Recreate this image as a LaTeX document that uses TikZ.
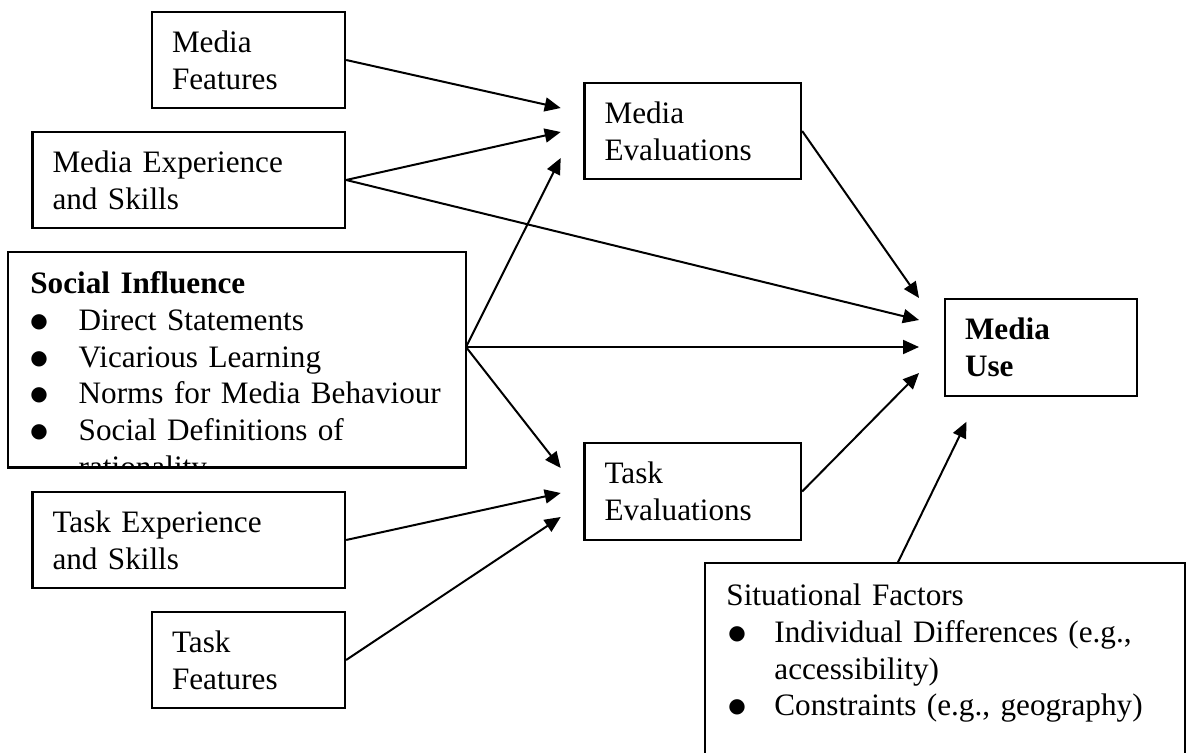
\documentclass[tikz,border=0pt]{standalone}
\usepackage{fontspec}
\setmainfont{Liberation Serif}
\newfontfamily\bulfont{DejaVu Sans}
\usetikzlibrary{arrows.meta}
\newcommand{\mybul}{\raisebox{1.5pt}{\bulfont\fontsize{10}{10}\selectfont ●}}
\begin{document}
\begin{tikzpicture}[x=0.5pt,y=-0.5pt,
  box/.style={draw, line width=1.15pt, align=left, inner xsep=10pt, inner ysep=0pt,
    font=\fontsize{15.6}{18.4}\selectfont},
  bigbox/.style={draw, line width=1.15pt, inner sep=0pt},
  listtext/.style={anchor=base west, inner sep=0pt, align=left, text width=230pt,
    font=\fontsize{15.6}{18.4}\selectfont},
  arr/.style={line width=1pt, -{Triangle[length=8pt,width=7pt]}}
]
\useasboundingbox (0,0) rectangle (1186,753);
\clip (0,0) rectangle (1186,753);

% boxes
\node[box, text width=76.5pt, minimum height=48pt] (mf) at (248.5,60) {Media\\Features};
\node[box, text width=136.25pt, minimum height=48pt] (me) at (188.75,180) {Media Experience\\and Skills};
\node[box, text width=88.25pt, minimum height=48pt] (mev) at (692.75,131) {Media\\Evaluations};
\node[box, text width=76pt, minimum height=48.5pt, font=\fontsize{15.6}{18.4}\selectfont\bfseries] (mu) at (1041,347.5) {Media\\Use};
\node[box, text width=88.25pt, minimum height=48.5pt] (tev) at (692.75,491.5) {Task\\Evaluations};
\node[box, text width=136.25pt, minimum height=48pt] (tx) at (188.75,540) {Task Experience\\and Skills};
\node[box, text width=76.5pt, minimum height=48pt] (tf) at (248.5,660) {Task\\Features};

% social influence (text clipped by its box)
\node[bigbox, minimum width=228.85pt, minimum height=107.75pt] (si) at (237.15,359.75) {};
\begin{scope}
  \clip (si.south west) rectangle (si.north east);
  \node[listtext] (sitext) at (30,293.5) {\textbf{Social Influence}\\
    \makebox[24.15pt][l]{\mybul}Direct Statements\\
    \makebox[24.15pt][l]{\mybul}Vicarious Learning\\
    \makebox[24.15pt][l]{\mybul}Norms for Media Behaviour\\
    \makebox[24.15pt][l]{\mybul}Social Definitions of\\
    \hspace*{24.15pt}rationality};
\end{scope}

% situational factors
\node[bigbox, minimum width=240pt, minimum height=118.5pt] (sf) at (945,681.5) {};
\node[listtext] (sftext) at (726,605.5) {Situational Factors\\
  \makebox[24pt][l]{\hspace{1pt}\mybul}Individual Differences (e.g.,\\
  \hspace*{24pt}accessibility)\\
  \makebox[24pt][l]{\hspace{1pt}\mybul}Constraints (e.g., geography)};

% connector end points
\coordinate (siout) at (466,347);
\coordinate (sfout) at (897.6,563);
\coordinate (t1) at (560.7,108);
\coordinate (t2) at (560.7,132);
\coordinate (t3) at (560.7,158);
\coordinate (t4) at (919,320);
\coordinate (t5) at (919,347);
\coordinate (t6) at (919,298);
\coordinate (t7) at (919,373);
\coordinate (t8) at (560.7,468);
\coordinate (t9) at (560.7,493);
\coordinate (t10) at (560.7,517);
\coordinate (t11) at (966.5,421.7);

% connectors
\draw[arr] (mf.east) -- (t1);
\draw[arr] (me.east) -- (t2);
\draw[arr] (siout) -- (t3);
\draw[arr] (me.east) -- (t4);
\draw[arr] (siout) -- (t5);
\draw[arr] (mev.east) -- (t6);
\draw[arr] (tev.east) -- (t7);
\draw[arr] (siout) -- (t8);
\draw[arr] (tx.east) -- (t9);
\draw[arr] (tf.east) -- (t10);
\draw[arr] (sfout) -- (t11);
\end{tikzpicture}
\end{document}
